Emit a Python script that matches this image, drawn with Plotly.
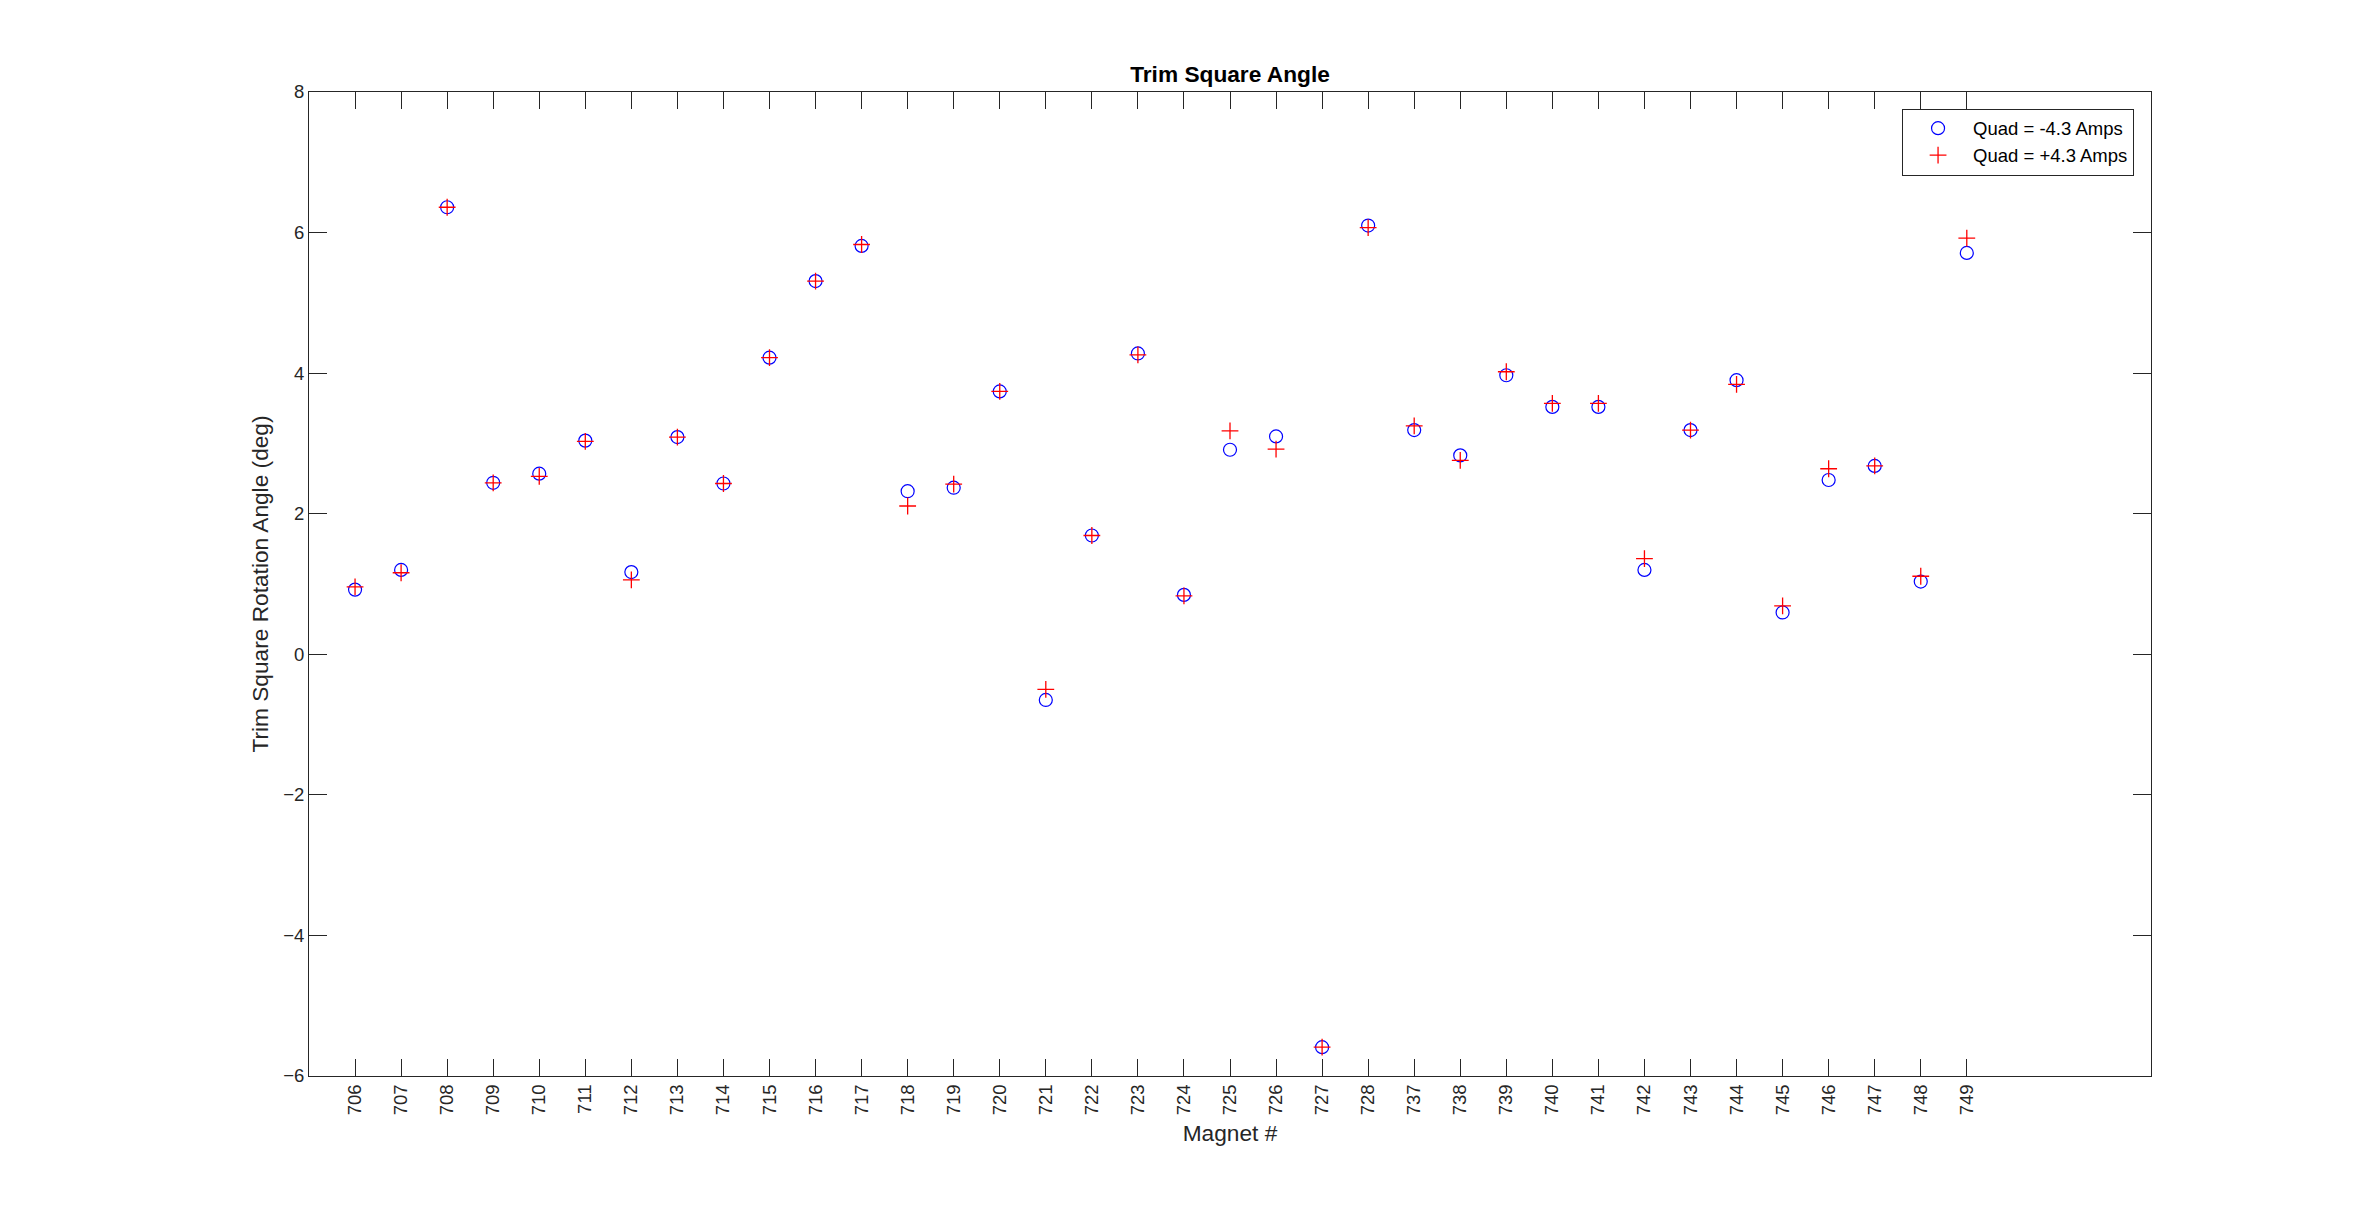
import plotly.graph_objects as go

magnets = ["706", "707", "708", "709", "710", "711", "712", "713", "714", "715",
           "716", "717", "718", "719", "720", "721", "722", "723", "724", "725",
           "726", "727", "728", "737", "738", "739", "740", "741", "742", "743",
           "744", "745", "746", "747", "748", "749"]

quad_minus = [0.92, 1.20, 6.36, 2.44, 2.57, 3.04, 1.17, 3.09, 2.43, 4.22,
              5.31, 5.81, 2.32, 2.37, 3.74, -0.65, 1.69, 4.28, 0.845, 2.91,
              3.10, -5.59, 6.10, 3.19, 2.83, 3.97, 3.52, 3.52, 1.20, 3.19,
              3.90, 0.595, 2.48, 2.68, 1.035, 5.71]

quad_plus = [0.96, 1.16, 6.36, 2.44, 2.53, 3.03, 1.06, 3.09, 2.43, 4.22,
             5.31, 5.83, 2.11, 2.42, 3.74, -0.50, 1.69, 4.26, 0.83, 3.18,
             2.92, -5.59, 6.07, 3.25, 2.76, 4.02, 3.57, 3.57, 1.36, 3.19,
             3.84, 0.69, 2.64, 2.68, 1.11, 5.92]

y_ticks = [-6, -4, -2, 0, 2, 4, 6, 8]

FONT = "Liberation Sans, Arial, Helvetica, sans-serif"
AX = "#262626"

fig = go.Figure()
fig.add_trace(go.Scatter(
    x=magnets, y=quad_minus, mode="markers", name="Quad = -4.3 Amps",
    marker=dict(symbol="circle-open", size=13, color="#0000ff",
                line=dict(width=1.2, color="#0000ff")),
))
fig.add_trace(go.Scatter(
    x=magnets, y=quad_plus, mode="markers", name="Quad = +4.3 Amps",
    marker=dict(symbol="cross-thin-open", size=12, color="#ff0000",
                line=dict(width=1.3, color="#ff0000")),
))

# page has an 8px body margin; figure is sized/offset to compensate
fig.update_layout(
    width=2362, height=1194, autosize=False,
    paper_bgcolor="white", plot_bgcolor="white",
    margin=dict(l=301, r=219, t=84, b=126),
    font=dict(family=FONT, size=18.5, color=AX),
    title=dict(text="<b>Trim Square Angle</b>", x=0.5, xref="paper", xanchor="center",
               y=1, yref="paper", yanchor="bottom", pad=dict(b=10),
               font=dict(family=FONT, size=22.7, color="black")),
    showlegend=True,
    legend=dict(x=0.9908, y=0.9831, xanchor="right", yanchor="top",
                bgcolor="white", bordercolor=AX, borderwidth=1,
                font=dict(family=FONT, size=18.5, color="black"),
                itemwidth=60, tracegroupgap=0),
)

fig.update_xaxes(
    type="category", categoryorder="array", categoryarray=magnets,
    range=[-1, 39], showgrid=False, zeroline=False,
    showline=True, linecolor=AX, linewidth=1, mirror="ticks",
    ticks="inside", ticklen=17, tickcolor=AX, tickwidth=1,
    tickangle=-90, tickfont=dict(family=FONT, size=18.5, color=AX),
    title=dict(text="Magnet #", standoff=10, font=dict(family=FONT, size=22.7, color=AX)),
    automargin=False,
)
fig.update_yaxes(
    range=[-6, 8], tickvals=y_ticks, showgrid=False, zeroline=False,
    showline=True, linecolor=AX, linewidth=1, mirror="ticks",
    ticks="inside", ticklen=18, tickcolor=AX, tickwidth=1,
    tickfont=dict(family=FONT, size=18.5, color=AX),
    title=dict(text="Trim Square Rotation Angle (deg)", standoff=8,
               font=dict(family=FONT, size=22.7, color=AX)),
    automargin=False,
)

fig.write_html("out.html")
